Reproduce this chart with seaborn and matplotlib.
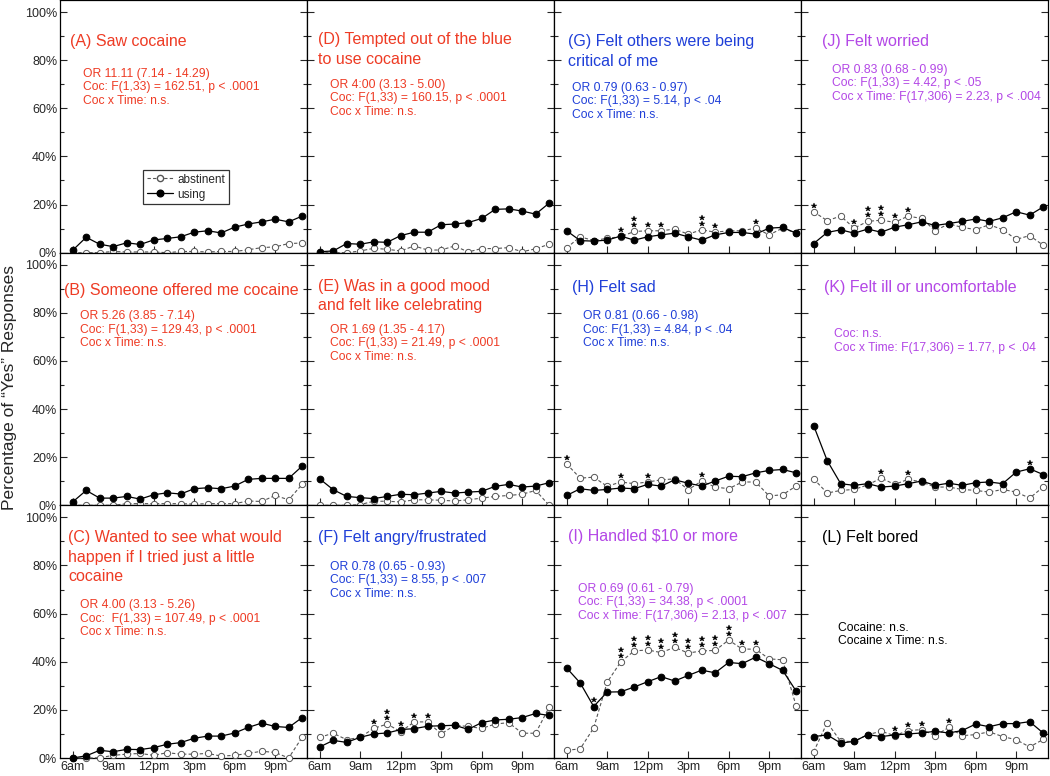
import numpy as np
import matplotlib
matplotlib.use('Agg')
import matplotlib.pyplot as plt
from matplotlib.lines import Line2D
from matplotlib.ticker import MultipleLocator
import seaborn as sns

# hourly assessments, 6am .. 11pm
hours = list(range(6, 24))
tick_hours = [6, 9, 12, 15, 18, 21]
tick_labels = ['6am', '9am', '12pm', '3pm', '6pm', '9pm']

# ---- top row ----
A_using = [1.0, 6.4, 3.5, 2.5, 4.1, 3.4, 5.3, 5.9, 6.6, 8.5, 9.1, 8.2, 10.6, 11.9, 12.8, 13.9, 12.8, 15.2]
A_abst = [0, 0, 0, 0.5, 0.3, 0.3, 0.3, 0, 0.5, 0.5, 0.3, 0.5, 0.5, 1.2, 2.1, 2.4, 3.8, 4.0]
A_stars = [0] * 18

D_using = [0.4, 0.7, 3.8, 3.5, 4.5, 4.3, 7.1, 8.5, 8.5, 11.6, 11.9, 12.5, 14.2, 18.0, 18.2, 17.3, 16.0, 20.6]
D_abst = [0, 0, 0, 0.7, 1.8, 1.4, 0.7, 2.8, 1.1, 1.1, 2.8, 0.3, 1.7, 1.7, 2.1, 0.4, 1.6, 3.5]
D_stars = [0] * 18

G_using = [9.1, 5.0, 4.8, 5.2, 6.9, 5.2, 6.6, 7.4, 8.1, 6.6, 5.2, 7.4, 8.4, 8.4, 7.7, 10.2, 10.5, 8.1]
G_abst = [2.0, 6.6, 5.0, 6.0, 6.6, 8.8, 9.1, 9.1, 9.8, 7.7, 9.5, 8.5, 9.1, 9.1, 10.2, 7.4, 10.2, 8.1]
G_stars = [0, 0, 0, 0, 1, 2, 1, 1, 0, 0, 2, 1, 0, 0, 1, 0, 0, 0]

J_using = [3.8, 8.4, 9.5, 8.1, 9.8, 8.5, 10.6, 11.6, 12.8, 11.3, 12.1, 13.0, 14.0, 13.0, 14.5, 17.0, 15.6, 19.0]
J_abst = [17.0, 13.3, 15.2, 10.2, 13.0, 13.5, 12.6, 15.2, 14.2, 9.1, 12.0, 10.5, 9.6, 11.6, 9.6, 5.5, 7.1, 3.1]
J_stars = [1, 0, 0, 1, 2, 2, 1, 1, 0, 0, 0, 0, 0, 0, 0, 0, 0, 0]

# ---- middle row ----
B_using = [1.4, 6.2, 3.0, 3.0, 3.7, 2.6, 4.4, 5.2, 4.7, 6.9, 7.3, 6.9, 8.0, 10.8, 11.2, 11.2, 11.2, 16.3]
B_abst = [0, 0, 0, 0, 0.7, 0.7, 0.7, 0.7, 0.7, 0.5, 0.7, 0.7, 0.7, 1.8, 1.6, 4.1, 2.3, 8.7]
B_stars = [0] * 18

E_using = [11.0, 6.5, 3.7, 3.2, 2.8, 3.7, 4.6, 4.4, 5.1, 5.8, 5.1, 5.5, 5.8, 7.9, 8.7, 7.6, 8.0, 9.4]
E_abst = [0, 0, 0, 0.3, 1.7, 1.7, 1.4, 2.3, 2.3, 2.1, 1.8, 2.3, 3.0, 3.7, 4.1, 4.6, 6.2, 0]
E_stars = [0] * 18

H_using = [4.1, 6.9, 6.2, 6.6, 7.2, 6.9, 8.7, 8.0, 10.6, 9.2, 8.0, 10.1, 12.1, 11.9, 13.5, 14.5, 14.9, 13.5]
H_abst = [17.2, 11.3, 11.7, 7.9, 9.7, 9.0, 9.7, 10.6, 11.0, 6.5, 10.1, 7.6, 6.9, 9.7, 9.7, 3.9, 4.4, 8.0]
H_stars = [1, 0, 0, 0, 1, 0, 1, 0, 0, 0, 1, 0, 0, 0, 0, 0, 0, 0]

K_using = [33.1, 18.6, 9.0, 8.3, 9.0, 7.6, 8.0, 9.0, 10.1, 8.3, 9.2, 8.3, 9.4, 9.7, 9.0, 13.8, 15.2, 12.8]
K_abst = [11.0, 5.1, 6.2, 6.6, 8.5, 11.3, 8.7, 10.8, 9.7, 7.6, 7.6, 6.6, 6.2, 5.5, 6.6, 5.5, 3.0, 7.6]
K_stars = [0, 0, 0, 0, 0, 1, 0, 1, 0, 0, 0, 0, 0, 0, 0, 0, 1, 0]

# ---- bottom row ----
C_using = [0, 0.9, 3.2, 2.6, 3.6, 3.5, 4.3, 5.7, 6.4, 8.2, 9.1, 9.1, 10.4, 12.7, 14.5, 13.1, 12.7, 16.8]
C_abst = [0, 0, 0.1, 1.1, 1.6, 1.9, 1.1, 2.2, 1.6, 1.6, 1.9, 0.8, 1.1, 1.9, 2.8, 2.3, 0, 8.6]
C_stars = [0] * 18

F_using = [4.6, 7.3, 6.5, 8.6, 10.0, 10.4, 11.8, 12.2, 13.2, 13.4, 13.6, 11.9, 14.7, 15.8, 16.1, 16.8, 18.5, 17.7]
F_abst = [8.6, 10.3, 7.6, 8.6, 12.3, 14.1, 10.9, 15.0, 15.0, 10.0, 13.6, 13.1, 12.3, 14.1, 14.7, 10.3, 10.3, 21.1]
F_stars = [0, 0, 0, 0, 1, 2, 1, 1, 1, 0, 0, 0, 0, 0, 0, 0, 0, 0]

I_using = [37.4, 31.2, 21.4, 27.4, 27.5, 29.5, 31.7, 33.8, 32.0, 34.3, 36.5, 35.4, 39.7, 39.2, 41.9, 39.2, 36.4, 27.8]
I_abst = [3.2, 3.8, 12.5, 31.5, 39.9, 44.5, 44.9, 43.8, 46.0, 43.6, 44.5, 44.7, 49.0, 45.3, 45.2, 41.2, 40.8, 21.6]
I_stars = [0, 0, 1, 0, 2, 2, 2, 2, 2, 2, 2, 2, 2, 1, 1, 0, 0, 0]

L_using = [8.9, 9.6, 6.2, 6.9, 9.7, 8.9, 9.6, 10.0, 10.4, 11.1, 10.4, 11.4, 14.1, 13.0, 14.3, 14.3, 15.1, 10.4]
L_abst = [2.6, 14.7, 6.9, 6.9, 9.7, 11.1, 9.3, 11.4, 11.8, 9.3, 12.7, 9.3, 9.7, 10.9, 8.9, 7.6, 4.6, 7.7]
L_stars = [0, 0, 0, 0, 0, 0, 1, 1, 1, 0, 1, 0, 0, 0, 0, 0, 0, 0]

RED = '#ee3b24'
BLUE = '#1f3fd8'
PURPLE = '#b347e6'
BLACK = '#000000'

# (row, col, title lines, stats lines, colour, title xy, stats xy) positions in axes fraction
panels = [
    (0, 0, ['(A) Saw cocaine'],
     ['OR 11.11 (7.14 - 14.29)', 'Coc: F(1,33) = 162.51, p < .0001', 'Coc x Time: n.s.'],
     RED, (0.040, 0.834), (0.093, 0.708), A_using, A_abst, A_stars),
    (0, 1, ['(D) Tempted out of the blue', 'to use cocaine'],
     ['OR 4:00 (3.13 - 5.00)', 'Coc: F(1,33) = 160.15, p < .0001', 'Coc x Time: n.s.'],
     RED, (0.045, 0.842), (0.093, 0.664), D_using, D_abst, D_stars),
    (0, 2, ['(G) Felt others were being', 'critical of me'],
     ['OR 0.79 (0.63 - 0.97)', 'Coc: F(1,33) = 5.14, p < .04', 'Coc x Time: n.s.'],
     BLUE, (0.058, 0.834), (0.073, 0.652), G_using, G_abst, G_stars),
    (0, 3, ['(J) Felt worried'],
     ['OR 0.83 (0.68 - 0.99)', 'Coc: F(1,33) = 4.42, p < .05', 'Coc x Time: F(17,306) = 2.23, p < .004'],
     PURPLE, (0.085, 0.834), (0.126, 0.723), J_using, J_abst, J_stars),
    (1, 0, ['(B) Someone offered me cocaine'],
     ['OR 5.26 (3.85 - 7.14)', 'Coc: F(1,33) = 129.43, p < .0001', 'Coc x Time: n.s.'],
     RED, (0.016, 0.851), (0.081, 0.749), B_using, B_abst, B_stars),
    (1, 1, ['(E) Was in a good mood', 'and felt like celebrating'],
     ['OR 1.69 (1.35 - 4.17)', 'Coc: F(1,33) = 21.49, p < .0001', 'Coc x Time: n.s.'],
     RED, (0.045, 0.867), (0.093, 0.694), E_using, E_abst, E_stars),
    (1, 2, ['(H) Felt sad'],
     ['OR 0.81 (0.66 - 0.98)', 'Coc: F(1,33) = 4.84, p < .04', 'Coc x Time: n.s.'],
     BLUE, (0.073, 0.863), (0.117, 0.749), H_using, H_abst, H_stars),
    (1, 3, ['(K) Felt ill or uncomfortable'],
     ['Coc: n.s.', 'Coc x Time: F(17,306) = 1.77, p < .04'],
     PURPLE, (0.093, 0.863), (0.134, 0.678), K_using, K_abst, K_stars),
    (2, 0, ['(C) Wanted to see what would', 'happen if I tried just a little', 'cocaine'],
     ['OR 4.00 (3.13 - 5.26)', 'Coc:  F(1,33) = 107.49, p < .0001', 'Coc x Time: n.s.'],
     RED, (0.032, 0.871), (0.081, 0.605), C_using, C_abst, C_stars),
    (2, 1, ['(F) Felt angry/frustrated'],
     ['OR 0.78 (0.65 - 0.93)', 'Coc: F(1,33) = 8.55, p < .007', 'Coc x Time: n.s.'],
     BLUE, (0.045, 0.871), (0.093, 0.756), F_using, F_abst, F_stars),
    (2, 2, ['(I) Handled $10 or more'],
     ['OR 0.69 (0.61 - 0.79)', 'Coc: F(1,33) = 34.38, p < .0001', 'Coc x Time: F(17,306) = 2.13, p < .007'],
     PURPLE, (0.057, 0.875), (0.097, 0.669), I_using, I_abst, I_stars),
    (2, 3, ['(L) Felt bored'],
     ['Cocaine: n.s.', 'Cocaine x Time: n.s.'],
     BLACK, (0.085, 0.871), (0.150, 0.515), L_using, L_abst, L_stars),
]

sns.set_style('ticks')
plt.rcParams['font.family'] = ['Liberation Sans', 'DejaVu Sans']

fig, axes = plt.subplots(3, 4, figsize=(10.5, 7.76), dpi=100, sharex=True, sharey=True)
fig.subplots_adjust(left=60 / 1050, right=1048 / 1050, top=1.0, bottom=18 / 776,
                    wspace=0, hspace=0)

title_step = 19.5 / 252.7
stat_step = 13.5 / 252.7

for (r, c, title, stats, color, txy, sxy, using, abst, stars) in panels:
    ax = axes[r, c]
    sns.lineplot(x=hours, y=abst, ax=ax, color='#555555', linestyle=(0, (3, 2)), lw=0.8,
                 marker='o', markersize=4.5, markerfacecolor='white',
                 markeredgecolor='#555555', markeredgewidth=0.7, clip_on=False, zorder=3)
    sns.lineplot(x=hours, y=using, ax=ax, color='black', lw=0.9,
                 marker='o', markersize=4.8, markerfacecolor='black',
                 markeredgecolor='black', clip_on=False, zorder=4)

    # significance stars above the higher of the two points
    for h, u, a, n in zip(hours, using, abst, stars):
        for k in range(n):
            ax.plot(h, max(u, a) + 2.5 + 2.5 * k, marker='*', color='black',
                    markersize=3.8, markeredgewidth=0.3, linestyle='none', zorder=5)

    for i, line in enumerate(title):
        ax.text(txy[0], txy[1] - i * title_step, line, transform=ax.transAxes,
                color=color, fontsize=11.5, va='center', ha='left')
    for i, line in enumerate(stats):
        ax.text(sxy[0], sxy[1] - i * stat_step, line, transform=ax.transAxes,
                color=color, fontsize=8.7, va='center', ha='left')

    ax.set_xlim(5.06, 23.36)
    ax.set_ylim(0, 105)
    ax.set_xticks(tick_hours)
    ax.set_xticklabels(tick_labels)
    ax.yaxis.set_major_locator(MultipleLocator(20))
    ax.yaxis.set_minor_locator(MultipleLocator(10))
    ax.tick_params(axis='both', which='both', direction='in', labelsize=9, pad=2,
                   right=True, top=False, width=0.8, labelleft=False)
    ax.tick_params(axis='both', which='major', length=5)
    ax.tick_params(axis='y', which='minor', length=3)
    for sp in ax.spines.values():
        sp.set_visible(True)
        sp.set_linewidth(0.9)
        sp.set_color('black')
    ax.set_xlabel('')
    ax.set_ylabel('')

ylabels = [f'{v}%' for v in range(0, 101, 20)]
for r in range(3):
    axes[r, 0].set_yticks(range(0, 101, 20))
    axes[r, 0].set_yticklabels(ylabels)
    axes[r, 0].tick_params(axis='y', labelleft=True)
for c in range(4):
    axes[2, c].tick_params(axis='x', labelbottom=True)

handles = [
    Line2D([], [], color='#555555', linestyle=(0, (3, 2)), lw=0.8, marker='o', markersize=4.5,
           markerfacecolor='white', markeredgecolor='#555555'),
    Line2D([], [], color='black', lw=0.9, marker='o', markersize=4.8, markerfacecolor='black'),
]
leg = axes[0, 0].legend(handles, ['abstinent', 'using'], loc='upper left',
                        bbox_to_anchor=(0.336, 0.327), fontsize=8.5, frameon=True,
                        fancybox=False, edgecolor='black', handlelength=2.2,
                        borderpad=0.3, labelspacing=0.25, handletextpad=0.4,
                        borderaxespad=0)
leg.get_frame().set_linewidth(0.9)

fig.text(9.5 / 1050, 0.5, 'Percentage of \u201cYes\u201d Responses', rotation=90,
         va='center', ha='center', fontsize=12.5)

fig.savefig('out.png', dpi=100)
